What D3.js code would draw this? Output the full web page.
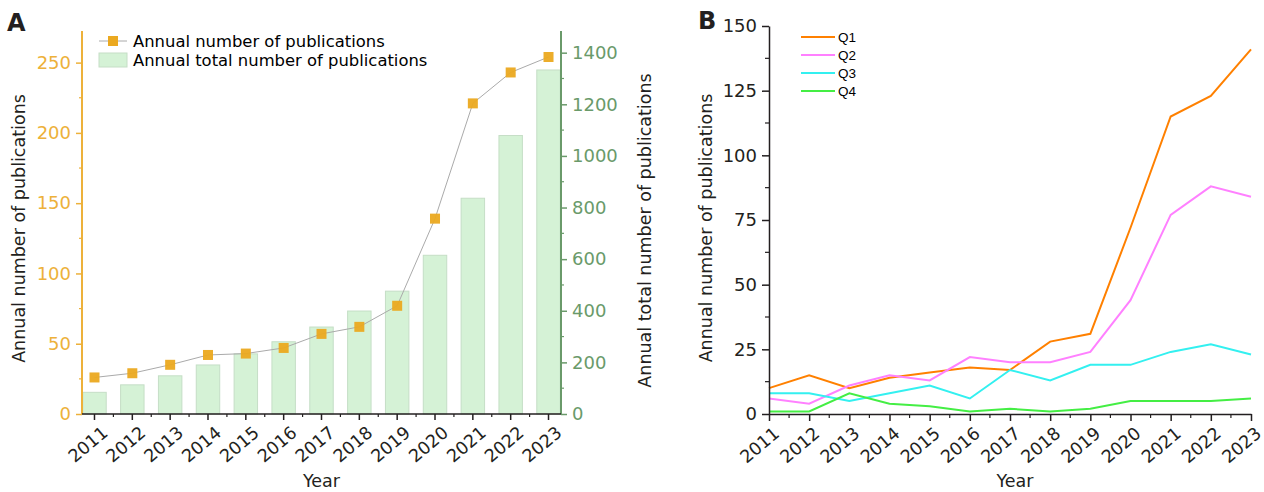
<!DOCTYPE html>
<html><head><meta charset="utf-8">
<script src="https://cdn.jsdelivr.net/npm/d3@7"></script>
<style>
body{margin:0;background:#fff;}
svg{font-family:"DejaVu Sans",Verdana,sans-serif;}
</style></head>
<body><svg id="c" width="1264" height="492"></svg>
<script>
const years = ["2011","2012","2013","2014","2015","2016","2017","2018","2019","2020","2021","2022","2023"];
const annual = [26, 29, 35, 42, 43, 47, 57, 62, 77, 139, 221, 243, 254];
const total = [84, 113, 148, 190, 233, 280, 337, 399, 476, 615, 836, 1079, 1333];
const leftTicks = [0, 50, 100, 150, 200, 250];
const rightTicks = [0, 200, 400, 600, 800, 1000, 1200, 1400];
const q1 = [10, 15, 10, 14, 16, 18, 17, 28, 31, 72, 115, 123, 141];
const q2 = [6, 4, 11, 15, 13, 22, 20, 20, 24, 44, 77, 88, 84];
const q3 = [8, 8, 5, 8, 11, 6, 17, 13, 19, 19, 24, 27, 23];
const q4 = [1, 1, 8, 4, 3, 1, 2, 1, 2, 5, 5, 5, 6];
const bTicks = [0, 25, 50, 75, 100, 125, 150];
const quartiles = ["Q1","Q2","Q3","Q4"];
const qColors = ["#FF8000","#FF80FF","#33F0F0","#44EE44"];

const svg = d3.select("#c");
const orange = "#EDB13A", green = "#6A9A6A", dark = "#231F20";
const tickFont = 18, yearFont = 17.5, titleFont = 17.5;

// ---------- Panel A ----------
const A = {l:82, r:561, t:31, b:414};
const xA = d3.scaleBand().domain(years).range([A.l, A.r]).paddingOuter(0.02).paddingInner(0.38);
const yL = d3.scaleLinear().domain([0, 272.5]).range([A.b, A.t]);
const yR = d3.scaleLinear().domain([0, 1484]).range([A.b, A.t]);
const gA = svg.append("g");

gA.selectAll("rect.bar").data(total).join("rect")
  .attr("x", (d,i)=>xA(years[i])).attr("width", xA.bandwidth())
  .attr("y", d=>yR(d)).attr("height", d=>A.b - yR(d))
  .attr("fill","#D5F2D6").attr("stroke","#C5DEC6").attr("stroke-width",1);

const cx = i => xA(years[i]) + xA.bandwidth()/2;
gA.append("path").datum(annual)
  .attr("d", d3.line().x((d,i)=>cx(i)).y(d=>yL(d)))
  .attr("fill","none").attr("stroke","#AAAAAA").attr("stroke-width",1);
gA.selectAll("rect.mk").data(annual).join("rect")
  .attr("x",(d,i)=>cx(i)-5).attr("y",d=>yL(d)-5).attr("width",10).attr("height",10)
  .attr("fill","#EBA920").attr("fill-opacity",0.95);

const lAx = gA.append("g").attr("transform",`translate(${A.l},0)`)
  .call(d3.axisLeft(yL).tickValues(leftTicks).tickSize(6).tickPadding(5).tickSizeOuter(0));
lAx.select(".domain").attr("stroke",orange).attr("stroke-width",2).attr("d",`M0,${A.b}V${A.t}`);
lAx.selectAll(".tick line").attr("stroke",orange).attr("stroke-width",1.5);
lAx.selectAll(".tick text").attr("fill",orange).attr("font-size",tickFont).attr("font-family","DejaVu Sans");
gA.append("g").selectAll("line").data(leftTicks.map(v=>v+25).filter(v=>v<272)).join("line")
  .attr("x1",A.l-3).attr("x2",A.l).attr("y1",d=>yL(d)).attr("y2",d=>yL(d)).attr("stroke",orange).attr("stroke-width",1.2);

const rAx = gA.append("g").attr("transform",`translate(${A.r},0)`)
  .call(d3.axisRight(yR).tickValues(rightTicks).tickFormat(d3.format("d")).tickSize(6).tickPadding(5).tickSizeOuter(0));
rAx.select(".domain").attr("stroke",green).attr("stroke-width",2).attr("d",`M0,${A.b}V${A.t}`);
rAx.selectAll(".tick line").attr("stroke",green).attr("stroke-width",1.5);
rAx.selectAll(".tick text").attr("fill",green).attr("font-size",tickFont).attr("font-family","DejaVu Sans");
gA.append("g").selectAll("line").data(rightTicks.map(v=>v+100).filter(v=>v<1484)).join("line")
  .attr("x1",A.r).attr("x2",A.r+3).attr("y1",d=>yR(d)).attr("y2",d=>yR(d)).attr("stroke",green).attr("stroke-width",1.2);

const xAx = gA.append("g").attr("transform",`translate(0,${A.b})`)
  .call(d3.axisBottom(xA).tickSize(6).tickPadding(4).tickSizeOuter(0));
xAx.select(".domain").attr("stroke",dark).attr("stroke-width",1.5).attr("d",`M${A.l},0H${A.r}`);
xAx.selectAll(".tick line").attr("stroke",dark).attr("stroke-width",1.5);
xAx.selectAll(".tick text").attr("fill",dark).attr("font-size",yearFont).attr("font-family","DejaVu Sans")
  .attr("text-anchor","end").attr("dy",0).attr("transform","translate(8,13) rotate(-40)");
const minorA = years.slice(0,-1).map((y,i)=>(cx(i)+cx(i+1))/2);
gA.append("g").selectAll("line").data(minorA).join("line")
  .attr("x1",d=>d).attr("x2",d=>d).attr("y1",A.b).attr("y2",A.b+3).attr("stroke",dark).attr("stroke-width",1.2);

gA.append("text").attr("transform",`translate(25,${(A.t+A.b)/2+6}) rotate(-90)`).attr("text-anchor","middle")
  .attr("font-size",titleFont).attr("fill",dark).text("Annual number of publications");
gA.append("text").attr("transform",`translate(651,${(A.t+A.b)/2+8}) rotate(-90)`).attr("text-anchor","middle")
  .attr("font-size",titleFont).attr("fill",dark).text("Annual total number of publications");
gA.append("text").attr("x",(A.l+A.r)/2).attr("y",487).attr("text-anchor","middle")
  .attr("font-size",titleFont).attr("fill",dark).text("Year");
gA.append("text").attr("x",7).attr("y",31).attr("font-size",24).attr("font-weight","bold").attr("fill",dark).text("A");

const lg = gA.append("g");
lg.append("line").attr("x1",99).attr("x2",127).attr("y1",41).attr("y2",41).attr("stroke","#AAAAAA");
lg.append("rect").attr("x",108).attr("y",36).attr("width",10).attr("height",10).attr("fill","#EBA920");
lg.append("rect").attr("x",99).attr("y",53).attr("width",28).attr("height",14).attr("fill","#D5F2D6").attr("stroke","#C5DEC6");
lg.append("text").attr("x",133).attr("y",47).attr("font-size",16.4).attr("fill","#000").text("Annual number of publications");
lg.append("text").attr("x",133).attr("y",66).attr("font-size",16.4).attr("fill","#000").text("Annual total number of publications");

// ---------- Panel B ----------
const B = {l:769, r:1251, t:26, b:414};
const xB = d3.scalePoint().domain(years).range([B.l, B.r]);
const yB = d3.scaleLinear().domain([0,150]).range([B.b, B.t]);
const gB = svg.append("g");
[q1,q2,q3,q4].forEach((s,k)=>{
  gB.append("path").datum(s)
    .attr("d", d3.line().x((d,i)=>xB(years[i])).y(d=>yB(d)))
    .attr("fill","none").attr("stroke",qColors[k]).attr("stroke-width",2);
});
const yBx = gB.append("g").attr("transform",`translate(${B.l},0)`)
  .call(d3.axisLeft(yB).tickValues(bTicks).tickSize(7).tickPadding(5).tickSizeOuter(0));
yBx.select(".domain").attr("stroke",dark).attr("stroke-width",1.5);
yBx.selectAll(".tick line").attr("stroke",dark).attr("stroke-width",1.5);
yBx.selectAll(".tick text").attr("fill",dark).attr("font-size",tickFont).attr("font-family","DejaVu Sans");
gB.append("g").selectAll("line").data(bTicks.slice(0,-1).map(v=>v+12.5)).join("line")
  .attr("x1",B.l-4).attr("x2",B.l).attr("y1",d=>yB(d)).attr("y2",d=>yB(d)).attr("stroke",dark).attr("stroke-width",1.2);
const xBx = gB.append("g").attr("transform",`translate(0,${B.b})`)
  .call(d3.axisBottom(xB).tickSize(7).tickPadding(4).tickSizeOuter(0));
xBx.select(".domain").attr("stroke",dark).attr("stroke-width",1.5);
xBx.selectAll(".tick line").attr("stroke",dark).attr("stroke-width",1.5);
xBx.selectAll(".tick text").attr("fill",dark).attr("font-size",yearFont).attr("font-family","DejaVu Sans")
  .attr("text-anchor","end").attr("dy",0).attr("transform","translate(4,13) rotate(-40)");
gB.append("g").selectAll("line").data(years.slice(0,-1).map((y,i)=>(xB(y)+xB(years[i+1]))/2)).join("line")
  .attr("x1",d=>d).attr("x2",d=>d).attr("y1",B.b).attr("y2",B.b+4).attr("stroke",dark).attr("stroke-width",1.2);

gB.append("text").attr("transform",`translate(712,${(B.t+B.b)/2+8}) rotate(-90)`).attr("text-anchor","middle")
  .attr("font-size",titleFont).attr("fill",dark).text("Annual number of publications");
gB.append("text").attr("x",1015).attr("y",487).attr("text-anchor","middle")
  .attr("font-size",titleFont).attr("fill",dark).text("Year");
gB.append("text").attr("x",698).attr("y",29).attr("font-size",24).attr("font-weight","bold").attr("fill",dark).text("B");

const lgB = gB.append("g");
quartiles.forEach((q,k)=>{
  const y = 37 + k*18;
  lgB.append("line").attr("x1",801).attr("x2",835).attr("y1",y).attr("y2",y).attr("stroke",qColors[k]).attr("stroke-width",2);
  lgB.append("text").attr("x",838).attr("y",y+5).attr("font-size",13.5).attr("font-family","Liberation Sans, Arial, sans-serif").attr("fill","#000").text(q);
});
</script></body></html>
